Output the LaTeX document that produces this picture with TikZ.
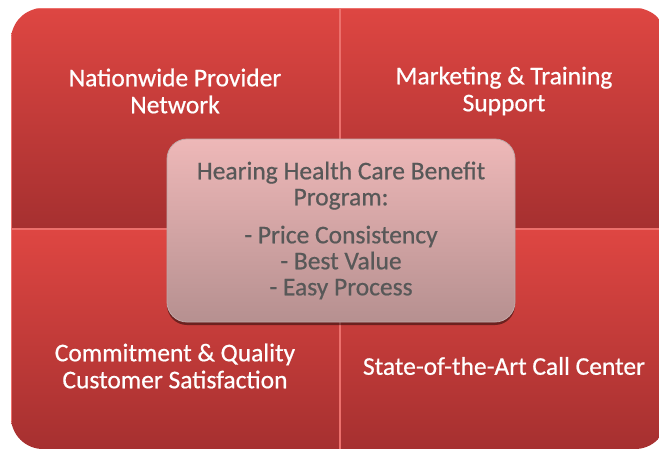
\documentclass[tikz,border=0pt]{standalone}
\usepackage{fontspec}
\setmainfont{Carlito}
\newfontfamily\qfont{Carlito}[FakeBold=0.6]
\usetikzlibrary{shadows}
\definecolor{qtop}{RGB}{222,70,66}
\definecolor{qbot}{RGB}{166,48,48}
\definecolor{qedge}{RGB}{236,112,108}
\definecolor{btop}{RGB}{238,184,184}
\definecolor{bbot}{RGB}{182,144,144}
\definecolor{bedge}{RGB}{150,110,110}
\definecolor{btext}{RGB}{88,88,88}
\begin{document}
\begin{tikzpicture}[x=1pt,y=-1pt,
  quadfill/.style={top color=qtop,bottom color=qbot,draw=qedge,line width=0.8pt},
  qtext/.style={text=white,align=center,font=\qfont\fontsize{25.5}{27}\selectfont},
  centerbox/.style={rounded corners=20pt,top color=btop,bottom color=bbot,draw=bedge!60,line width=0.8pt,
    minimum width=348pt,minimum height=183pt,align=center,text=btext,
    font=\qfont\fontsize{25.5}{26}\selectfont,
    drop shadow={shadow xshift=0pt,shadow yshift=-3pt,opacity=0.45,fill=black}}]
\useasboundingbox (0,0) rectangle (659,448);
\begin{scope}
\clip[rounded corners=32pt] (11,8) rectangle (667,449);
\path[quadfill] (11,8) rectangle (339.5,228.5);
\path[quadfill] (340.5,8) rectangle (667,228.5);
\path[quadfill] (11,229.5) rectangle (339.5,449);
\path[quadfill] (340.5,229.5) rectangle (667,449);
\end{scope}
\node[qtext] (tl) at (175,91) {Nationwide Provider\\Network};
\node[qtext] (tr) at (504,91) {Marketing \& Training\\Support};
\node[qtext] (bl) at (175,366) {Commitment \& Quality\\Customer Satisfaction};
\node[qtext] (br) at (504,366) {State-of-the-Art Call Center};
\node[centerbox] (center) at (341,230.5) {Hearing Health Care Benefit\\Program:\\[12pt]- Price Consistency\\- Best Value\\- Easy Process};
\end{tikzpicture}
\end{document}
